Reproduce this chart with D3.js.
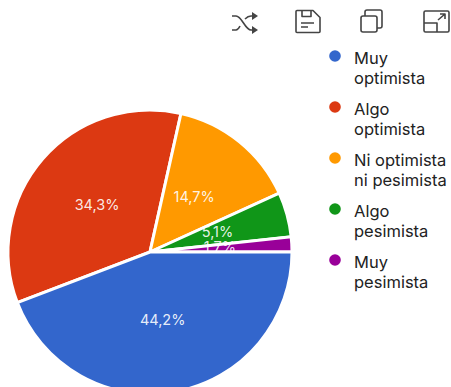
<!DOCTYPE html>
<html><head><meta charset="utf-8">
<script src="https://cdn.jsdelivr.net/npm/d3@7"></script>
<style>html,body{margin:0;padding:0;background:#fff;overflow:hidden}</style>
</head><body><div id="c"></div>
<script>
const categories=[["Muy","optimista"],["Algo","optimista"],["Ni optimista","ni pesimista"],["Algo","pesimista"],["Muy","pesimista"]];
const values=[44.2,34.3,14.7,5.1,1.7];
const labels=["44,2%","34,3%","14,7%","5,1%","1,7%"];
const colors=["#3366cc","#dc3912","#ff9900","#109618","#990099"];
const font="Inter, Roboto, sans-serif";
const W=451,H=387,cx=150,cy=252,R=142;
const svg=d3.select("#c").append("svg").attr("width",W).attr("height",H).style("display","block");
const pie=d3.pie().sort(null).startAngle(Math.PI/2).endAngle(Math.PI*2.5)(values);
const arc=d3.arc().innerRadius(0).outerRadius(R);
const labelArc=d3.arc().innerRadius(70).outerRadius(70);
const slices=svg.append("g").attr("transform",`translate(${cx},${cy})`);
const texts=svg.append("g").attr("transform",`translate(${cx},${cy})`);
const blueLayer=svg.append("g").attr("transform",`translate(${cx},${cy})`);
slices.selectAll("path").data(pie.slice(1)).join("path").attr("d",arc).attr("fill",d=>colors[d.index]).attr("stroke","#fff").attr("stroke-width",3);
blueLayer.selectAll("path").data(pie.slice(0,1)).join("path").attr("d",arc).attr("fill",d=>colors[d.index]).attr("stroke","#fff").attr("stroke-width",3);
function addLabels(sel,data){
 sel.selectAll("text").data(data).join("text")
  .attr("x",d=>labelArc.centroid(d)[0]).attr("y",d=>labelArc.centroid(d)[1])
  .attr("text-anchor","middle").attr("dominant-baseline","middle").attr("fill","#fff")
  .attr("fill-opacity",.9).style("font",`14.5px ${font}`).text(d=>labels[d.index]);
}
addLabels(texts,pie.slice(1));
addLabels(blueLayer,pie.slice(0,1));
const ly=[58,109,160,211,262];
const leg=svg.append("g").selectAll("g").data(categories).join("g").attr("transform",(d,i)=>`translate(0,${ly[i]})`);
leg.append("circle").attr("cx",335).attr("cy",-2).attr("r",5.8).attr("fill",(d,i)=>colors[i]);
leg.each(function(d){d3.select(this).selectAll("text").data(d).join("text").attr("x",354).attr("y",(t,j)=>j*20+6).attr("fill","#222").style("font",`16.5px ${font}`).text(t=>t);});
const ic=svg.append("g").attr("fill","none").attr("stroke","#444").attr("stroke-width",1.6).attr("stroke-linejoin","round");
ic.append("path").attr("d","M232 16h4c6 0 9 14 15 14h5M232 30h4c2 0 3-2 4-4M245 19c2-2 3-3 6-3h5");
ic.append("path").attr("fill","#444").attr("stroke","none").attr("d","M252 12l-0 8 6-4zM252 26l0 8 6-4z");
ic.append("path").attr("d","M297 10.500h16l7 7v14a1 1 0 0 1-1 1h-22a1 1 0 0 1-1-1v-20a1 1 0 0 1 1-1zM302 10.500v6h9v-6M301 23h13M301 27h7");
ic.append("rect").attr("x",361).attr("y",16).attr("width",16).attr("height",16).attr("rx",2);
ic.append("path").attr("d","M365 16v-4a2 2 0 0 1 2-2h13a2 2 0 0 1 2 2v14a2 2 0 0 1-2 2h-3");
ic.append("rect").attr("x",424).attr("y",11).attr("width",25).attr("height",21).attr("rx",1.5);
ic.append("path").attr("d","M424 23h13v9M438 20l7-6M440 14h5v5");
</script></body></html>
